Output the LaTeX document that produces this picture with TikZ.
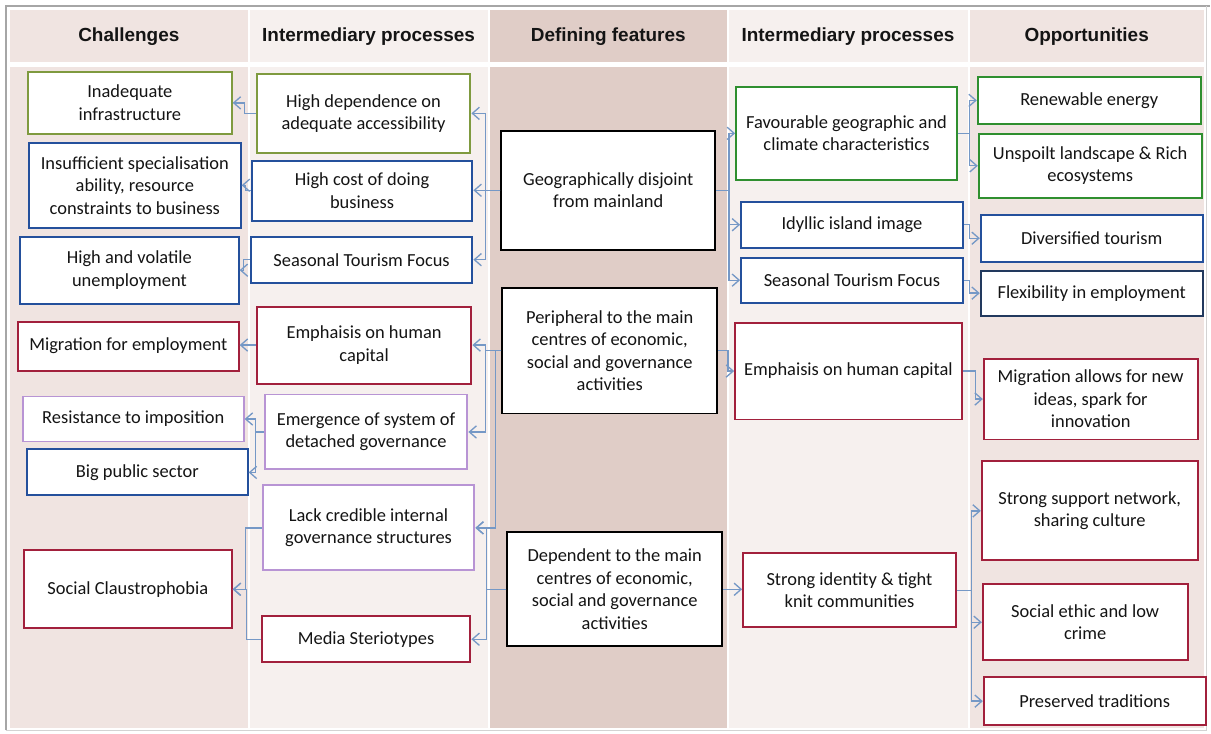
\documentclass[tikz,border=0pt]{standalone}
\usepackage{fontspec}
\setmainfont{Carlito}
\newfontfamily\headfont{Liberation Sans}
\usetikzlibrary{arrows.meta}
\definecolor{olive1}{HTML}{7F9A3F}
\definecolor{green1}{HTML}{2F8F2F}
\definecolor{blue1}{HTML}{24509C}
\definecolor{navy1}{HTML}{22395E}
\definecolor{red1}{HTML}{A2203C}
\definecolor{lilac1}{HTML}{B894D4}
\definecolor{conn1}{HTML}{7598C6}
\definecolor{ink}{HTML}{141414}
\definecolor{bgout}{HTML}{F0E4E1}
\definecolor{bgmid}{HTML}{F6F0EE}
\definecolor{bgcore}{HTML}{E0CDC7}
\definecolor{frame1}{HTML}{A6A6A6}

\begin{document}
\begin{tikzpicture}[x=0.02cm,y=-0.02cm,font=\fontsize{10.5}{12.8}\selectfont,text=ink,
  box/.style={draw,fill=white,align=center,line width=1.1pt,inner sep=2pt},
  sz/.style 2 args={minimum width=#1*0.02cm,minimum height=#2*0.02cm},
  conn/.style={draw=conn1,line width=0.75pt,-{Straight Barb[length=4pt,width=7pt]}},
  colhead/.style={font=\headfont\bfseries\fontsize{10.8}{13}\selectfont}]
  % page and frame
  \fill[white] (0,0) rectangle (1211,734);
  \draw[frame1,line width=1.7pt] (6,731) -- (6,6) -- (1211,6);
  \draw[frame1!50,line width=0.6pt] (6,731) -- (1208,731) -- (1208,6);
  % columns
  \fill[bgout]  (10,10) rectangle (248,62);   \fill[bgout]  (10,67) rectangle (248,729);
  \fill[bgmid]  (250,10) rectangle (489,62);  \fill[bgmid]  (250,67) rectangle (489,729);
  \fill[bgcore] (491,10) rectangle (728,62);  \fill[bgcore] (491,67) rectangle (728,729);
  \fill[bgmid]  (730,10) rectangle (969,62);  \fill[bgmid]  (730,67) rectangle (969,729);
  \fill[bgout]  (971,10) rectangle (1205,62); \fill[bgout]  (971,67) rectangle (1205,729);
  % headers
  \node[colhead] (h1) at (129,37) {Challenges};
  \node[colhead] (h2) at (369,37) {Intermediary processes};
  \node[colhead] (h3) at (609,37) {Defining features};
  \node[colhead] (h4) at (849,37) {Intermediary processes};
  \node[colhead] (h5) at (1088,37) {Opportunities};

  % challenges
  \node[box,draw=olive1,sz={204}{62}] (c1) at (130,103) {Inadequate\\infrastructure};
  \node[box,draw=blue1,sz={212}{85}] (c2) at (135,185.5) {Insufficient specialisation\\ability, resource\\constraints to business};
  \node[box,draw=blue1,sz={219}{67}] (c3) at (129.5,270.5) {High and volatile\\unemployment};
  \node[box,draw=red1,sz={221}{49}] (c4) at (128.5,346.5) {Migration for employment};
  \node[box,draw=lilac1,sz={221}{45}] (c5) at (133.5,419.5) {Resistance to imposition};
  \node[box,draw=blue1,sz={221}{46}] (c6) at (137.5,473) {Big public sector};
  \node[box,draw=red1,sz={208}{78}] (c7) at (128,590) {Social Claustrophobia};

  % intermediary processes (left)
  \node[box,draw=olive1,sz={214}{79}] (i1) at (364,113.5) {High dependence on\\adequate accessibility};
  \node[box,draw=blue1,sz={221}{60}] (i2) at (362.5,191) {High cost of doing\\business};
  \node[box,draw=blue1,sz={222}{46}] (i3) at (362,260) {Seasonal Tourism Focus};
  \node[box,draw=red1,sz={215}{77}] (i4) at (364.5,345.5) {Emphaisis on human\\capital};
  \node[box,draw=lilac1,sz={203}{75}] (i5) at (366.5,432.5) {Emergence of system of\\detached governance};
  \node[box,draw=lilac1,sz={212}{85}] (i6) at (369,528.5) {Lack credible internal\\governance structures};
  \node[box,draw=red1,sz={209}{46}] (i7) at (366.5,640) {Media Steriotypes};

  % defining features
  \node[box,draw=black,sz={214}{119}] (d1) at (609,190.5) {Geographically disjoint\\from mainland};
  \node[box,draw=black,sz={215}{126}] (d2) at (610.5,351) {Peripheral to the main\\centres of economic,\\social and governance\\activities};
  \node[box,draw=black,sz={215}{114}] (d3) at (615.5,590) {Dependent to the main\\centres of economic,\\social and governance\\activities};

  % intermediary processes (right)
  \node[box,draw=green1,sz={221}{93}] (p1) at (847.5,133.5) {Favourable geographic and\\climate characteristics};
  \node[box,draw=blue1,sz={222}{46}] (p2) at (853,225) {Idyllic island image};
  \node[box,draw=blue1,sz={222}{45}] (p3) at (853,280.5) {Seasonal Tourism Focus};
  \node[box,draw=red1,sz={227}{97}] (p4) at (849.5,371.5) {Emphaisis on human capital};
  \node[box,draw=red1,sz={213}{74}] (p5) at (850.5,591) {Strong identity \& tight\\knit communities};

  % opportunities
  \node[box,draw=green1,sz={223}{47}] (o1) at (1090.5,100.5) {Renewable energy};
  \node[box,draw=green1,sz={223}{64}] (o2) at (1091.5,166) {Unspoilt landscape \& Rich\\ecosystems};
  \node[box,draw=blue1,sz={222}{47}] (o3) at (1093,238.5) {Diversified tourism};
  \node[box,draw=navy1,sz={222}{45}] (o4) at (1093,293.5) {Flexibility in employment};
  \node[box,draw=red1,sz={214}{81}] (o5) at (1092,399.5) {Migration allows for new\\ideas, spark for\\innovation};
  \node[box,draw=red1,sz={216}{99}] (o6) at (1091,511.5) {Strong support network,\\sharing culture};
  \node[box,draw=red1,sz={205}{76}] (o7) at (1086.5,623) {Social ethic and low\\crime};
  \node[box,draw=red1,sz={222}{48}] (o8) at (1096,702) {Preserved traditions};

  % connectors, left half
  \draw[conn] (d1.west) -- (i2.east |- d1.west);
  \foreach \t in {i1,i3} \draw[conn] (d1.west) -- ++(-15,0) |- (\t.east);
  \foreach \t in {i4,i5} \draw[conn] (d2.west) -- ++(-16,0) |- (\t.east);
  \draw[conn] (d2.west) -- ++(-6,0) |- (i6.east);
  \foreach \t in {i6,i7} \draw[conn] (d3.west) -- ++(-20,0) |- (\t.east);
  \draw[conn] (i1.west) -- ++(-11,0) |- (c1.east);
  \draw[conn] (i2.west) -- ++(-5,0) |- (c2.east);
  \draw[conn] (i3.west) -- ++(-6,0) |- (c3.east);
  \draw[conn] (i4.west) -- (c4.east |- i4.west);
  \foreach \t in {c5,c6} \draw[conn] (i5.west) -- ++(-8,0) |- (\t.east);
  \draw[conn] (i6.west) -- ++(-16,0) |- (c7.east);
  \draw[conn] (i7.west) -- ++(-14,0) |- (c7.east);

  % connectors, right half
  \foreach \t in {p1,p2,p3} \draw[conn] (d1.east) -- ++(13,0) |- (\t.west);
  \draw[conn] (d2.east) -- ++(10,0) |- (p4.west);
  \draw[conn] (d3.east) -- (p5.west |- d3.east);
  \foreach \t in {o1,o2} \draw[conn] (p1.east) -- ++(12,0) |- (\t.west);
  \draw[conn] (p2.east) -- ++(6,0) |- (o3.west);
  \draw[conn] (p3.east) -- ++(6,0) |- (o4.west);
  \draw[conn] (p4.east) -- ++(13,0) |- (o5.west);
  \foreach \t in {o6,o7,o8} \draw[conn] (p5.east) -- ++(15,0) |- (\t.west);
\end{tikzpicture}
\end{document}
